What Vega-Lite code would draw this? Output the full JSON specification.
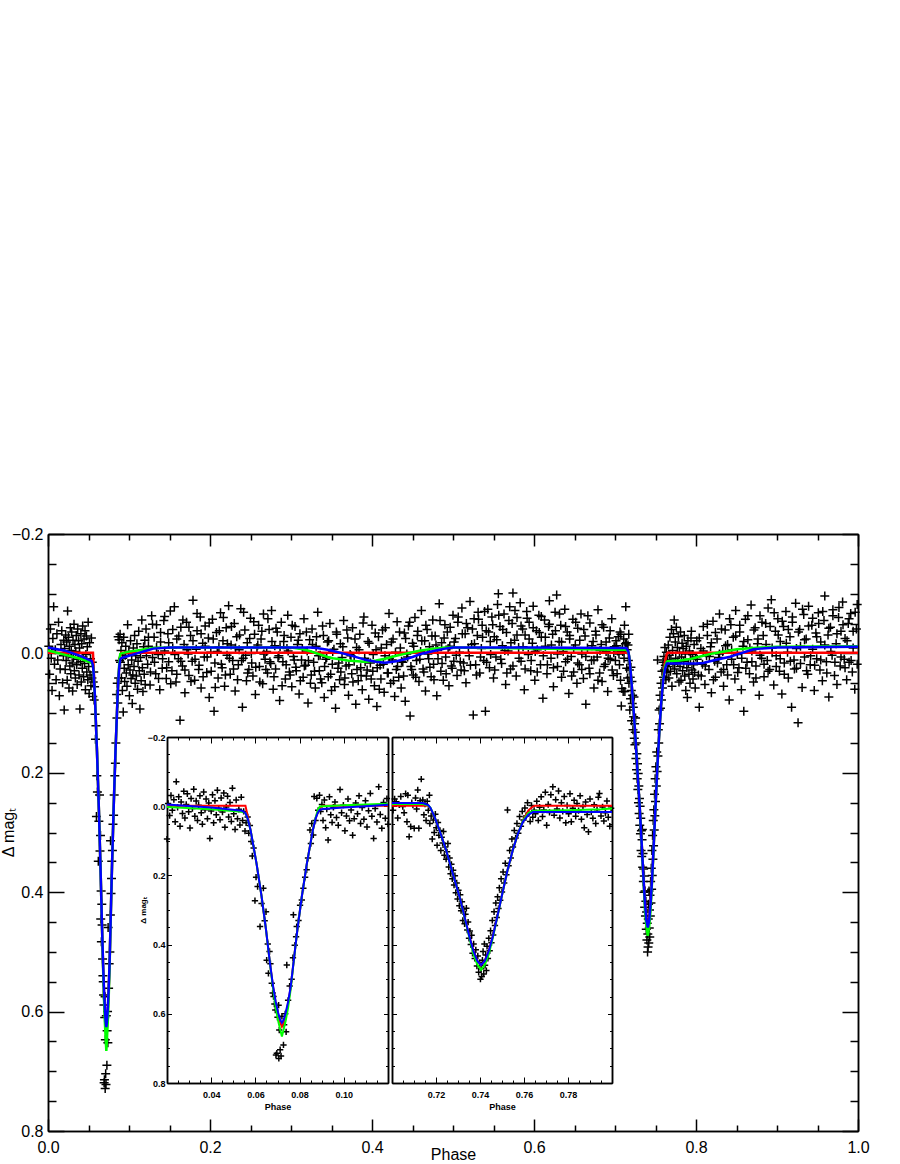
{
"$schema":"https://vega.github.io/schema/vega-lite/v6.json",
"width":810,"height":597,
"autosize":{"type":"none"},
"padding":{"left":48,"top":534,"right":42,"bottom":33},
"background":"white",
"config":{"view":{"stroke":null},"axis":{"grid":false,"domainColor":"black","tickColor":"black","labelColor":"black","titleColor":"black","labelFont":"Liberation Sans","titleFont":"Liberation Sans","domainWidth":1.5,"tickWidth":1.5,"labelFlush":false,"labelOverlap":false}},
"datasets":{
"obs":[
{"p":0.001,"m":-0.012},{"p":0.002,"m":0.035},{"p":0.003,"m":-0.041},{"p":0.004,"m":0.008},{"p":0.005,"m":0.062},{"p":0.006,"m":-0.025},{"p":0.007,"m":-0.078},{"p":0.008,"m":0.018},{"p":0.009,"m":-0.006},{"p":0.010,"m":0.044},{"p":0.011,"m":-0.033},{"p":0.012,"m":0.011},{"p":0.013,"m":-0.052},{"p":0.014,"m":0.071},{"p":0.015,"m":0.026},{"p":0.016,"m":-0.015},{"p":0.017,"m":-0.038},{"p":0.018,"m":0.049},{"p":0.019,"m":0.004},{"p":0.020,"m":0.095},{"p":0.0195,"m":-0.022},
{"p":0.0205,"m":-0.008},{"p":0.0212,"m":0.027},{"p":0.0218,"m":-0.031},{"p":0.0224,"m":0.012},{"p":0.0231,"m":-0.019},{"p":0.0237,"m":0.045},{"p":0.0242,"m":-0.071},{"p":0.0248,"m":0.003},{"p":0.0253,"m":-0.027},{"p":0.0259,"m":0.058},{"p":0.0264,"m":-0.012},{"p":0.0270,"m":0.021},{"p":0.0276,"m":-0.043},{"p":0.0281,"m":0.034},{"p":0.0287,"m":-0.005},{"p":0.0292,"m":-0.036},{"p":0.0298,"m":0.016},{"p":0.0304,"m":0.063},{"p":0.0309,"m":-0.022},{"p":0.0315,"m":0.007},{"p":0.0321,"m":-0.049},{"p":0.0326,"m":0.029},{"p":0.0332,"m":-0.015},{"p":0.0338,"m":0.041},{"p":0.0343,"m":-0.003},{"p":0.0349,"m":-0.030},{"p":0.0355,"m":0.019},{"p":0.0360,"m":0.052},{"p":0.0366,"m":-0.041},{"p":0.0372,"m":0.010},{"p":0.0377,"m":-0.021},{"p":0.0383,"m":0.036},{"p":0.0389,"m":-0.009},{"p":0.0394,"m":0.093},{"p":0.0400,"m":0.014},{"p":0.0406,"m":-0.033},{"p":0.0411,"m":0.048},{"p":0.0417,"m":-0.016},{"p":0.0423,"m":0.025},{"p":0.0428,"m":-0.046},{"p":0.0434,"m":0.006},{"p":0.0440,"m":0.039},{"p":0.0445,"m":-0.024},{"p":0.0451,"m":0.017},{"p":0.0457,"m":-0.038},{"p":0.0462,"m":0.061},{"p":0.0468,"m":0.002},{"p":0.0474,"m":-0.029},{"p":0.0479,"m":0.031},{"p":0.0485,"m":-0.011},{"p":0.0491,"m":0.044},{"p":0.0496,"m":-0.052},{"p":0.0502,"m":0.022},{"p":0.0508,"m":0.067},{"p":0.0513,"m":-0.018},{"p":0.0519,"m":0.036},{"p":0.0525,"m":0.009},{"p":0.0530,"m":0.054},{"p":0.0536,"m":-0.026},{"p":0.0542,"m":0.041},{"p":0.0547,"m":0.015},{"p":0.0553,"m":0.072},{"p":0.0558,"m":0.048},
{"p":0.0565,"m":0.031},{"p":0.0570,"m":0.078},{"p":0.0575,"m":0.056},{"p":0.0581,"m":0.102},{"p":0.0586,"m":0.144},{"p":0.0592,"m":0.121},{"p":0.0598,"m":0.273},{"p":0.0603,"m":0.205},{"p":0.0610,"m":0.232},{"p":0.0621,"m":0.348},{"p":0.0628,"m":0.281},{"p":0.0636,"m":0.237},{"p":0.0642,"m":0.331},{"p":0.0648,"m":0.305},{"p":0.0651,"m":0.445},{"p":0.0656,"m":0.398},{"p":0.0659,"m":0.483},{"p":0.0664,"m":0.420},{"p":0.0668,"m":0.455},{"p":0.0674,"m":0.512},{"p":0.0678,"m":0.540},{"p":0.0682,"m":0.550},{"p":0.0686,"m":0.572},{"p":0.0690,"m":0.589},{"p":0.0693,"m":0.719},{"p":0.0697,"m":0.714},{"p":0.0700,"m":0.610},{"p":0.0705,"m":0.575},{"p":0.0706,"m":0.729},{"p":0.0708,"m":0.647},{"p":0.0712,"m":0.704},{"p":0.0716,"m":0.722},{"p":0.0720,"m":0.607},{"p":0.0727,"m":0.690},{"p":0.0730,"m":0.632},{"p":0.0735,"m":0.600},{"p":0.0739,"m":0.652},{"p":0.0742,"m":0.459},{"p":0.0748,"m":0.561},{"p":0.0755,"m":0.520},{"p":0.0764,"m":0.500},{"p":0.0770,"m":0.438},{"p":0.0772,"m":0.314},{"p":0.0778,"m":0.402},{"p":0.0784,"m":0.377},{"p":0.0787,"m":0.348},{"p":0.0795,"m":0.330},{"p":0.0802,"m":0.286},{"p":0.0810,"m":0.271},{"p":0.0817,"m":0.237},{"p":0.0825,"m":0.205},{"p":0.0832,"m":0.184},{"p":0.0838,"m":0.150},{"p":0.0847,"m":0.069},{"p":0.0851,"m":0.108},{"p":0.0855,"m":0.050},{"p":0.0862,"m":0.083},{"p":0.0866,"m":-0.028},{"p":0.0872,"m":0.041},{"p":0.0878,"m":-0.023},{"p":0.0884,"m":0.012},
{"p":0.0890,"m":-0.032},{"p":0.0895,"m":0.015},{"p":0.0901,"m":-0.005},{"p":0.0906,"m":0.041},{"p":0.0912,"m":-0.018},{"p":0.0918,"m":0.062},{"p":0.0923,"m":0.008},{"p":0.0929,"m":0.098},{"p":0.0935,"m":-0.027},{"p":0.0941,"m":0.025},{"p":0.0947,"m":0.047},{"p":0.0953,"m":0.003},{"p":0.0960,"m":-0.012},{"p":0.0967,"m":0.033},{"p":0.0975,"m":0.055},{"p":0.0983,"m":-0.048},{"p":0.0990,"m":0.019},{"p":0.0998,"m":-0.003},{"p":0.1005,"m":0.071},{"p":0.1012,"m":0.028},{"p":0.1019,"m":-0.021},{"p":0.1026,"m":0.042},{"p":0.1033,"m":0.011},{"p":0.1040,"m":0.084},{"p":0.1047,"m":0.036},{"p":0.1054,"m":-0.009},{"p":0.1062,"m":0.022},{"p":0.1069,"m":-0.030},{"p":0.1076,"m":0.050},{"p":0.1083,"m":0.004},{"p":0.1091,"m":0.038},{"p":0.1098,"m":-0.016},{"p":0.1105,"m":0.060},{"p":0.1112,"m":0.013},{"p":0.1120,"m":-0.037},{"p":0.1127,"m":0.029},{"p":0.1135,"m":0.093},{"p":0.1142,"m":0.007},{"p":0.1150,"m":0.046},{"p":0.1158,"m":-0.056},{"p":0.1165,"m":0.024},{"p":0.1172,"m":0.064},{"p":0.1180,"m":-0.011},{"p":0.1188,"m":0.035},{"p":0.1195,"m":-0.022},{"p":0.1200,"m":0.052},
{"p":0.121,"m":-0.041},{"p":0.123,"m":0.018},{"p":0.124,"m":-0.012},{"p":0.126,"m":0.053},{"p":0.128,"m":-0.063},{"p":0.129,"m":0.007},{"p":0.131,"m":-0.027},{"p":0.133,"m":0.034},{"p":0.134,"m":-0.048},{"p":0.136,"m":0.002},{"p":0.138,"m":0.061},{"p":0.139,"m":-0.019},{"p":0.141,"m":0.025},{"p":0.143,"m":-0.055},{"p":0.144,"m":-0.004},{"p":0.146,"m":0.042},{"p":0.148,"m":-0.033},{"p":0.149,"m":0.014},{"p":0.151,"m":-0.071},{"p":0.153,"m":0.029},{"p":0.154,"m":-0.009},{"p":0.156,"m":-0.078},{"p":0.158,"m":0.048},{"p":0.159,"m":-0.024},{"p":0.161,"m":0.009},{"p":0.163,"m":0.112},{"p":0.164,"m":-0.044},{"p":0.166,"m":0.021},{"p":0.168,"m":-0.015},{"p":0.169,"m":0.066},{"p":0.171,"m":-0.052},{"p":0.173,"m":0.001},{"p":0.174,"m":0.037},{"p":0.176,"m":-0.030},{"p":0.178,"m":0.013},{"p":0.179,"m":-0.089},{"p":0.181,"m":0.045},{"p":0.183,"m":-0.007},{"p":0.184,"m":-0.038},{"p":0.186,"m":0.027},{"p":0.188,"m":-0.061},{"p":0.189,"m":0.058},{"p":0.191,"m":-0.017},{"p":0.193,"m":0.006},{"p":0.194,"m":-0.046},{"p":0.196,"m":0.032},{"p":0.198,"m":-0.026},{"p":0.199,"m":0.074},{"p":0.201,"m":-0.002},{"p":0.203,"m":-0.057},{"p":0.205,"m":0.097},{"p":0.206,"m":0.016},{"p":0.208,"m":-0.035},{"p":0.210,"m":0.041},{"p":0.211,"m":-0.011},{"p":0.213,"m":-0.068},{"p":0.215,"m":0.024},{"p":0.216,"m":-0.021},{"p":0.218,"m":0.055},{"p":0.220,"m":-0.043},{"p":0.221,"m":0.003},{"p":0.223,"m":-0.080},{"p":0.225,"m":0.035},{"p":0.226,"m":-0.014},{"p":0.228,"m":0.012},{"p":0.230,"m":-0.050},{"p":0.231,"m":0.063},{"p":0.233,"m":-0.028},{"p":0.235,"m":0.019},{"p":0.236,"m":-0.006},{"p":0.238,"m":-0.075},{"p":0.240,"m":0.090},{"p":0.241,"m":0.008},{"p":0.243,"m":-0.039},{"p":0.245,"m":0.046},{"p":0.246,"m":-0.018},{"p":0.248,"m":0.027},{"p":0.250,"m":-0.059},{"p":0.251,"m":0.000},{"p":0.253,"m":0.038},{"p":0.255,"m":-0.032},{"p":0.256,"m":0.069},{"p":0.258,"m":-0.010},{"p":0.260,"m":-0.047},{"p":0.261,"m":0.022},{"p":0.263,"m":-0.024},{"p":0.265,"m":0.051},{"p":0.266,"m":-0.066},{"p":0.268,"m":0.010},{"p":0.270,"m":-0.003},{"p":0.271,"m":0.033},{"p":0.273,"m":-0.040},{"p":0.275,"m":0.017},{"p":0.276,"m":-0.072},{"p":0.278,"m":0.060},{"p":0.280,"m":-0.013},{"p":0.281,"m":0.026},{"p":0.283,"m":-0.036},{"p":0.285,"m":0.004},{"p":0.286,"m":0.079},{"p":0.288,"m":-0.052},{"p":0.290,"m":0.014},{"p":0.291,"m":-0.020},{"p":0.293,"m":0.043},{"p":0.295,"m":-0.008},{"p":0.296,"m":-0.064},{"p":0.298,"m":0.031},{"p":0.300,"m":-0.027},{"p":0.301,"m":0.056},{"p":0.303,"m":0.005},{"p":0.305,"m":-0.045},{"p":0.306,"m":0.023},{"p":0.308,"m":-0.015},{"p":0.310,"m":0.068},{"p":0.311,"m":-0.033},{"p":0.313,"m":0.011},{"p":0.315,"m":0.040},{"p":0.316,"m":-0.058},{"p":0.318,"m":0.020},{"p":0.320,"m":-0.004},{"p":0.321,"m":0.083},{"p":0.323,"m":-0.023},{"p":0.325,"m":0.036},{"p":0.326,"m":-0.041},{"p":0.328,"m":0.015},{"p":0.330,"m":0.058},{"p":0.331,"m":-0.012},{"p":0.333,"m":-0.069},{"p":0.335,"m":0.029},{"p":0.336,"m":0.003},{"p":0.338,"m":0.049},{"p":0.340,"m":-0.030},{"p":0.341,"m":0.074},{"p":0.343,"m":0.010},{"p":0.345,"m":-0.019},{"p":0.346,"m":0.039},{"p":0.348,"m":-0.050},{"p":0.350,"m":0.062},{"p":0.351,"m":0.018},{"p":0.353,"m":-0.007},{"p":0.355,"m":0.092},{"p":0.356,"m":-0.036},{"p":0.358,"m":0.025},{"p":0.360,"m":0.044},{"p":0.361,"m":-0.016},{"p":0.363,"m":0.007},{"p":0.365,"m":-0.055},{"p":0.366,"m":0.052},{"p":0.368,"m":0.021},{"p":0.370,"m":-0.026},{"p":0.371,"m":0.070},{"p":0.373,"m":0.002},{"p":0.375,"m":0.034},{"p":0.376,"m":-0.043},{"p":0.378,"m":0.013},{"p":0.380,"m":0.085},{"p":0.381,"m":-0.010},{"p":0.383,"m":0.046},{"p":0.385,"m":-0.032},{"p":0.386,"m":0.024},{"p":0.388,"m":0.061},{"p":0.390,"m":-0.061},{"p":0.391,"m":0.008},{"p":0.393,"m":0.038},{"p":0.395,"m":-0.020},{"p":0.396,"m":0.077},{"p":0.398,"m":0.016},{"p":0.400,"m":-0.047},{"p":0.401,"m":0.030},{"p":0.403,"m":0.054},{"p":0.405,"m":-0.006},{"p":0.406,"m":0.089},{"p":0.408,"m":-0.028},{"p":0.410,"m":0.020},{"p":0.411,"m":0.043},{"p":0.413,"m":-0.039},{"p":0.415,"m":0.065},{"p":0.416,"m":0.004},{"p":0.418,"m":-0.015},{"p":0.420,"m":0.033},{"p":0.421,"m":-0.067},{"p":0.423,"m":0.050},{"p":0.425,"m":0.011},{"p":0.426,"m":-0.024},{"p":0.428,"m":0.072},{"p":0.430,"m":0.027},{"p":0.431,"m":-0.053},{"p":0.433,"m":0.040},{"p":0.435,"m":-0.009},{"p":0.436,"m":0.058},{"p":0.438,"m":0.015},{"p":0.440,"m":-0.034},{"p":0.441,"m":0.080},{"p":0.443,"m":0.001},{"p":0.445,"m":-0.046},{"p":0.447,"m":0.105},{"p":0.448,"m":0.022},{"p":0.450,"m":-0.017},{"p":0.451,"m":0.036},{"p":0.453,"m":-0.060},{"p":0.455,"m":0.012},{"p":0.456,"m":-0.030},{"p":0.458,"m":0.047},{"p":0.460,"m":-0.003},{"p":0.461,"m":-0.072},{"p":0.463,"m":0.026},{"p":0.465,"m":-0.021},{"p":0.466,"m":0.063},{"p":0.468,"m":-0.040},{"p":0.470,"m":0.009},{"p":0.471,"m":-0.011},{"p":0.473,"m":0.039},{"p":0.475,"m":-0.056},{"p":0.476,"m":0.018},{"p":0.478,"m":-0.029},{"p":0.480,"m":0.071},{"p":0.481,"m":-0.005},{"p":0.483,"m":-0.083},{"p":0.485,"m":0.030},{"p":0.486,"m":-0.018},{"p":0.488,"m":0.045},{"p":0.490,"m":-0.048},{"p":0.491,"m":0.006},{"p":0.493,"m":-0.036},{"p":0.495,"m":0.054},{"p":0.496,"m":-0.012},{"p":0.498,"m":0.021},{"p":0.500,"m":-0.064},{"p":0.501,"m":0.013},{"p":0.503,"m":-0.025},{"p":0.505,"m":0.037},{"p":0.506,"m":-0.052},{"p":0.508,"m":-0.002},{"p":0.510,"m":0.028},{"p":0.511,"m":-0.076},{"p":0.513,"m":0.016},{"p":0.515,"m":-0.033},{"p":0.516,"m":0.049},{"p":0.518,"m":-0.043},{"p":0.520,"m":0.004},{"p":0.521,"m":-0.087},{"p":0.523,"m":-0.015},{"p":0.525,"m":0.103},{"p":0.526,"m":-0.058},{"p":0.528,"m":0.019},{"p":0.530,"m":-0.030},{"p":0.531,"m":-0.069},{"p":0.533,"m":0.033},{"p":0.535,"m":-0.008},{"p":0.536,"m":-0.047},{"p":0.538,"m":0.012},{"p":0.540,"m":0.097},{"p":0.541,"m":-0.038},{"p":0.543,"m":-0.074},{"p":0.545,"m":0.024},{"p":0.546,"m":-0.020},{"p":0.548,"m":-0.061},{"p":0.550,"m":0.041},{"p":0.551,"m":-0.028},{"p":0.553,"m":0.006},{"p":0.555,"m":-0.082},{"p":0.556,"m":-0.100},{"p":0.558,"m":-0.045},{"p":0.560,"m":0.017},{"p":0.561,"m":-0.013},{"p":0.563,"m":-0.066},{"p":0.565,"m":0.052},{"p":0.566,"m":-0.035},{"p":0.568,"m":-0.004},{"p":0.570,"m":-0.078},{"p":0.571,"m":0.026},{"p":0.573,"m":-0.050},{"p":0.574,"m":-0.101},{"p":0.576,"m":-0.022},{"p":0.578,"m":0.038},{"p":0.579,"m":-0.060},{"p":0.581,"m":-0.010},{"p":0.583,"m":-0.085},{"p":0.584,"m":0.013},{"p":0.586,"m":-0.041},{"p":0.588,"m":0.061},{"p":0.589,"m":-0.031},{"p":0.591,"m":-0.070},{"p":0.593,"m":0.002},{"p":0.594,"m":-0.052},{"p":0.596,"m":0.029},{"p":0.598,"m":-0.017},{"p":0.599,"m":-0.079},{"p":0.601,"m":0.045},{"p":0.603,"m":-0.038},{"p":0.604,"m":-0.006},{"p":0.606,"m":-0.064},{"p":0.608,"m":0.019},{"p":0.609,"m":-0.027},{"p":0.611,"m":0.075},{"p":0.613,"m":-0.056},{"p":0.614,"m":-0.012},{"p":0.616,"m":0.034},{"p":0.618,"m":-0.045},{"p":0.619,"m":-0.088},{"p":0.621,"m":0.008},{"p":0.623,"m":-0.032},{"p":0.624,"m":0.056},{"p":0.626,"m":-0.069},{"p":0.628,"m":-0.098},{"p":0.629,"m":0.022},{"p":0.631,"m":-0.020},{"p":0.633,"m":-0.047},{"p":0.634,"m":0.040},{"p":0.636,"m":-0.003},{"p":0.638,"m":-0.074},{"p":0.639,"m":0.014},{"p":0.641,"m":-0.036},{"p":0.643,"m":0.067},{"p":0.644,"m":-0.024},{"p":0.646,"m":0.005},{"p":0.648,"m":-0.057},{"p":0.649,"m":0.031},{"p":0.651,"m":-0.014},{"p":0.653,"m":0.050},{"p":0.654,"m":-0.042},{"p":0.656,"m":0.019},{"p":0.658,"m":-0.066},{"p":0.659,"m":0.001},{"p":0.661,"m":0.042},{"p":0.663,"m":-0.029},{"p":0.664,"m":0.085},{"p":0.666,"m":-0.009},{"p":0.668,"m":0.025},{"p":0.669,"m":-0.051},{"p":0.671,"m":0.012},{"p":0.673,"m":-0.020},{"p":0.674,"m":0.058},{"p":0.676,"m":-0.037},{"p":0.678,"m":0.006},{"p":0.679,"m":-0.073},{"p":0.681,"m":0.033},{"p":0.683,"m":-0.015},{"p":0.684,"m":0.047},{"p":0.686,"m":-0.044},{"p":0.688,"m":0.018},{"p":0.689,"m":-0.003},{"p":0.691,"m":0.064},{"p":0.693,"m":-0.026},{"p":0.694,"m":0.010},{"p":0.696,"m":-0.058},{"p":0.698,"m":0.037},{"p":0.699,"m":-0.011},
{"p":0.1215,"m":0.004},{"p":0.124,"m":-0.027},{"p":0.1265,"m":0.031},{"p":0.129,"m":-0.049},{"p":0.1315,"m":0.015},{"p":0.134,"m":-0.010},{"p":0.1365,"m":0.042},{"p":0.139,"m":-0.035},{"p":0.1415,"m":0.009},{"p":0.144,"m":-0.062},{"p":0.1465,"m":0.024},{"p":0.149,"m":-0.018},{"p":0.1515,"m":0.051},{"p":0.154,"m":-0.040},{"p":0.1565,"m":0.002},{"p":0.159,"m":0.035},{"p":0.1615,"m":-0.029},{"p":0.164,"m":0.013},{"p":0.1665,"m":-0.056},{"p":0.169,"m":0.028},{"p":0.1715,"m":-0.006},{"p":0.174,"m":-0.044},{"p":0.1765,"m":0.047},{"p":0.179,"m":-0.021},{"p":0.1815,"m":0.010},{"p":0.184,"m":-0.067},{"p":0.1865,"m":0.020},{"p":0.189,"m":-0.033},{"p":0.1915,"m":0.039},{"p":0.194,"m":-0.012},{"p":0.1965,"m":0.006},{"p":0.199,"m":-0.051},{"p":0.2015,"m":0.030},{"p":0.204,"m":-0.024},{"p":0.2065,"m":0.057},{"p":0.209,"m":-0.003},{"p":0.2115,"m":-0.038},{"p":0.214,"m":0.018},{"p":0.2165,"m":-0.060},{"p":0.219,"m":0.036},{"p":0.2215,"m":-0.016},{"p":0.224,"m":0.008},{"p":0.2265,"m":-0.045},{"p":0.229,"m":0.026},{"p":0.2315,"m":-0.009},{"p":0.234,"m":0.044},{"p":0.2365,"m":-0.031},{"p":0.239,"m":0.012},{"p":0.2415,"m":-0.069},{"p":0.244,"m":0.003},{"p":0.2465,"m":0.033},{"p":0.249,"m":-0.025},{"p":0.2515,"m":0.016},{"p":0.254,"m":-0.053},{"p":0.2565,"m":0.023},{"p":0.259,"m":-0.014},{"p":0.2615,"m":0.048},{"p":0.264,"m":-0.037},{"p":0.2665,"m":0.001},{"p":0.269,"m":0.027},{"p":0.2715,"m":-0.058},{"p":0.274,"m":0.014},{"p":0.2765,"m":-0.020},{"p":0.279,"m":0.039},{"p":0.2815,"m":-0.042},{"p":0.284,"m":0.007},{"p":0.2865,"m":-0.011},{"p":0.289,"m":0.054},{"p":0.2915,"m":-0.030},{"p":0.294,"m":0.019},{"p":0.2965,"m":-0.004},{"p":0.299,"m":0.036},{"p":0.3015,"m":-0.047},{"p":0.304,"m":0.011},{"p":0.3065,"m":0.029},{"p":0.309,"m":-0.022},{"p":0.3115,"m":0.046},{"p":0.314,"m":-0.008},{"p":0.3165,"m":0.021},{"p":0.319,"m":-0.036},{"p":0.3215,"m":0.012},{"p":0.324,"m":0.050},{"p":0.3265,"m":-0.015},{"p":0.329,"m":0.030},{"p":0.3315,"m":-0.028},{"p":0.334,"m":0.004},{"p":0.3365,"m":0.043},{"p":0.339,"m":-0.046},{"p":0.3415,"m":0.022},{"p":0.344,"m":0.007},{"p":0.3465,"m":-0.021},{"p":0.349,"m":0.035},{"p":0.3515,"m":-0.003},{"p":0.354,"m":0.056},{"p":0.3565,"m":-0.032},{"p":0.359,"m":0.016},{"p":0.3615,"m":0.031},{"p":0.364,"m":-0.011},{"p":0.3665,"m":0.041},{"p":0.369,"m":-0.039},{"p":0.3715,"m":0.019},{"p":0.374,"m":0.004},{"p":0.3765,"m":0.048},{"p":0.379,"m":-0.024},{"p":0.3815,"m":0.027},{"p":0.384,"m":-0.006},{"p":0.3865,"m":0.037},{"p":0.389,"m":-0.051},{"p":0.3915,"m":0.014},{"p":0.394,"m":0.028},{"p":0.3965,"m":-0.017},{"p":0.399,"m":0.043},{"p":0.4015,"m":0.002},{"p":0.404,"m":-0.034},{"p":0.4065,"m":0.024},{"p":0.409,"m":0.060},{"p":0.4115,"m":-0.009},{"p":0.414,"m":0.018},{"p":0.4165,"m":-0.043},{"p":0.419,"m":0.033},{"p":0.4215,"m":0.008},{"p":0.424,"m":-0.019},{"p":0.4265,"m":0.046},{"p":0.429,"m":-0.002},{"p":0.4315,"m":0.022},{"p":0.434,"m":-0.036},{"p":0.4365,"m":0.013},{"p":0.439,"m":0.038},{"p":0.4415,"m":-0.025},{"p":0.444,"m":0.006},{"p":0.4465,"m":-0.052},{"p":0.449,"m":0.027},{"p":0.4515,"m":-0.012},{"p":0.454,"m":0.040},{"p":0.4565,"m":-0.037},{"p":0.459,"m":0.010},{"p":0.4615,"m":-0.021},{"p":0.464,"m":0.031},{"p":0.4665,"m":-0.047},{"p":0.469,"m":0.001},{"p":0.4715,"m":0.023},{"p":0.474,"m":-0.029},{"p":0.4765,"m":0.044},{"p":0.479,"m":-0.014},{"p":0.4815,"m":0.009},{"p":0.484,"m":-0.055},{"p":0.4865,"m":0.017},{"p":0.489,"m":-0.026},{"p":0.4915,"m":0.034},{"p":0.494,"m":-0.008},{"p":0.4965,"m":-0.044},{"p":0.499,"m":0.025},{"p":0.5015,"m":-0.019},{"p":0.504,"m":0.003},{"p":0.5065,"m":-0.061},{"p":0.509,"m":0.014},{"p":0.5115,"m":-0.033},{"p":0.514,"m":0.029},{"p":0.5165,"m":-0.050},{"p":0.519,"m":-0.009},{"p":0.5215,"m":0.020},{"p":0.524,"m":-0.041},{"p":0.5265,"m":-0.016},{"p":0.529,"m":0.036},{"p":0.5315,"m":-0.057},{"p":0.534,"m":0.006},{"p":0.5365,"m":-0.027},{"p":0.539,"m":-0.070},{"p":0.5415,"m":0.015},{"p":0.544,"m":-0.036},{"p":0.5465,"m":0.002},{"p":0.549,"m":-0.048},{"p":0.5515,"m":0.028},{"p":0.554,"m":-0.023},{"p":0.5565,"m":-0.064},{"p":0.559,"m":0.010},{"p":0.5615,"m":-0.040},{"p":0.564,"m":-0.005},{"p":0.5665,"m":0.033},{"p":0.569,"m":-0.055},{"p":0.5715,"m":-0.018},{"p":0.574,"m":0.021},{"p":0.5765,"m":-0.072},{"p":0.579,"m":-0.031},{"p":0.5815,"m":0.008},{"p":0.584,"m":-0.046},{"p":0.5865,"m":-0.011},{"p":0.589,"m":0.026},{"p":0.5915,"m":-0.059},{"p":0.594,"m":-0.024},{"p":0.5965,"m":0.012},{"p":0.599,"m":-0.043},{"p":0.6015,"m":-0.003},{"p":0.604,"m":0.031},{"p":0.6065,"m":-0.035},{"p":0.609,"m":-0.062},{"p":0.6115,"m":0.004},{"p":0.614,"m":-0.027},{"p":0.6165,"m":0.019},{"p":0.619,"m":-0.049},{"p":0.6215,"m":-0.014},{"p":0.624,"m":0.024},{"p":0.6265,"m":-0.038},{"p":0.629,"m":0.001},{"p":0.6315,"m":-0.066},{"p":0.634,"m":-0.019},{"p":0.6365,"m":0.030},{"p":0.639,"m":-0.045},{"p":0.6415,"m":0.010},{"p":0.644,"m":-0.030},{"p":0.6465,"m":0.038},{"p":0.649,"m":-0.008},{"p":0.6515,"m":-0.052},{"p":0.654,"m":0.016},{"p":0.6565,"m":-0.022},{"p":0.659,"m":0.027},{"p":0.6615,"m":-0.040},{"p":0.664,"m":0.005},{"p":0.6665,"m":-0.063},{"p":0.669,"m":0.034},{"p":0.6715,"m":-0.013},{"p":0.674,"m":0.011},{"p":0.6765,"m":-0.031},{"p":0.679,"m":0.045},{"p":0.6815,"m":-0.005},{"p":0.684,"m":-0.048},{"p":0.6865,"m":0.022},{"p":0.689,"m":-0.019},{"p":0.6915,"m":0.008},{"p":0.694,"m":-0.038},{"p":0.6965,"m":0.028},{"p":0.6985,"m":-0.001},
{"p":0.7005,"m":0.012},{"p":0.7012,"m":-0.021},{"p":0.7019,"m":-0.013},{"p":0.7026,"m":0.034},{"p":0.7033,"m":-0.004},{"p":0.7040,"m":-0.028},{"p":0.7049,"m":0.001},{"p":0.7055,"m":0.019},{"p":0.7062,"m":-0.036},{"p":0.7068,"m":0.045},{"p":0.7072,"m":-0.032},{"p":0.7078,"m":0.088},{"p":0.7085,"m":0.059},{"p":0.7090,"m":-0.010},{"p":0.7095,"m":-0.003},{"p":0.7101,"m":0.064},{"p":0.7107,"m":-0.024},{"p":0.7112,"m":0.008},{"p":0.7117,"m":-0.047},{"p":0.7122,"m":0.064},{"p":0.7128,"m":-0.016},{"p":0.7133,"m":-0.078},{"p":0.7140,"m":-0.018},{"p":0.7145,"m":0.025},{"p":0.7150,"m":-0.006},{"p":0.7155,"m":0.041},{"p":0.7160,"m":-0.014},{"p":0.7165,"m":0.012},{"p":0.7170,"m":-0.032},
{"p":0.7172,"m":0.050},{"p":0.7178,"m":0.028},{"p":0.7183,"m":0.095},{"p":0.7188,"m":0.040},{"p":0.7192,"m":0.076},{"p":0.7197,"m":0.023},{"p":0.7201,"m":0.062},{"p":0.7205,"m":0.113},{"p":0.7209,"m":0.047},{"p":0.7213,"m":0.084},{"p":0.7218,"m":0.070},{"p":0.7222,"m":0.128},{"p":0.7226,"m":0.090},{"p":0.7230,"m":0.106},{"p":0.7234,"m":0.073},{"p":0.7238,"m":0.142},{"p":0.7242,"m":0.118},{"p":0.7246,"m":0.153},{"p":0.7250,"m":0.132},{"p":0.7254,"m":0.108},{"p":0.7258,"m":0.176},{"p":0.7262,"m":0.150},{"p":0.7266,"m":0.195},{"p":0.7270,"m":0.168},{"p":0.7274,"m":0.210},{"p":0.7278,"m":0.185},{"p":0.7282,"m":0.228},{"p":0.7286,"m":0.201},{"p":0.7290,"m":0.250},{"p":0.7294,"m":0.222},{"p":0.7298,"m":0.268},{"p":0.7302,"m":0.243},{"p":0.7306,"m":0.288},{"p":0.7310,"m":0.256},{"p":0.7314,"m":0.302},{"p":0.7318,"m":0.276},{"p":0.7322,"m":0.330},{"p":0.7326,"m":0.297},{"p":0.7330,"m":0.340},{"p":0.7334,"m":0.312},{"p":0.7338,"m":0.295},{"p":0.7342,"m":0.358},{"p":0.7346,"m":0.335},{"p":0.7350,"m":0.382},{"p":0.7354,"m":0.361},{"p":0.7358,"m":0.400},{"p":0.7362,"m":0.373},{"p":0.7366,"m":0.425},{"p":0.7371,"m":0.398},{"p":0.7376,"m":0.440},{"p":0.7381,"m":0.415},{"p":0.7386,"m":0.462},{"p":0.7390,"m":0.433},{"p":0.7394,"m":0.480},{"p":0.7398,"m":0.452},{"p":0.7402,"m":0.500},{"p":0.7405,"m":0.470},{"p":0.7408,"m":0.492},{"p":0.7411,"m":0.445},{"p":0.7414,"m":0.420},{"p":0.7417,"m":0.485},{"p":0.7420,"m":0.398},{"p":0.7423,"m":0.460},{"p":0.7426,"m":0.430},{"p":0.7429,"m":0.475},{"p":0.7432,"m":0.405},{"p":0.7436,"m":0.440},{"p":0.7440,"m":0.382},{"p":0.7444,"m":0.418},{"p":0.7448,"m":0.360},{"p":0.7452,"m":0.395},{"p":0.7456,"m":0.330},{"p":0.7460,"m":0.372},{"p":0.7464,"m":0.305},{"p":0.7468,"m":0.345},{"p":0.7472,"m":0.280},{"p":0.7476,"m":0.322},{"p":0.7480,"m":0.262},{"p":0.7484,"m":0.296},{"p":0.7488,"m":0.236},{"p":0.7492,"m":0.272},{"p":0.7496,"m":0.210},{"p":0.7500,"m":0.248},{"p":0.7505,"m":0.190},{"p":0.7510,"m":0.222},{"p":0.7515,"m":0.165},{"p":0.7520,"m":0.198},{"p":0.7525,"m":0.011},{"p":0.7530,"m":0.172},{"p":0.7535,"m":0.128},{"p":0.7540,"m":0.150},{"p":0.7545,"m":0.095},{"p":0.7550,"m":0.118},{"p":0.7556,"m":0.070},{"p":0.7562,"m":0.092},{"p":0.7568,"m":0.050},{"p":0.7574,"m":0.078},{"p":0.7580,"m":0.030},{"p":0.7586,"m":0.058},{"p":0.7592,"m":0.015},{"p":0.7598,"m":0.040},{"p":0.7604,"m":0.005},{"p":0.7610,"m":0.028},{"p":0.7616,"m":-0.010},{"p":0.7622,"m":0.020},{"p":0.7628,"m":0.044},{"p":0.7634,"m":-0.002},{"p":0.7640,"m":0.032},{"p":0.7646,"m":0.012},
{"p":0.7652,"m":0.022},{"p":0.7658,"m":-0.014},{"p":0.7665,"m":0.041},{"p":0.7671,"m":0.003},{"p":0.7678,"m":-0.027},{"p":0.7684,"m":0.030},{"p":0.7690,"m":0.011},{"p":0.7697,"m":-0.040},{"p":0.7703,"m":0.055},{"p":0.7710,"m":-0.005},{"p":0.7716,"m":0.018},{"p":0.7722,"m":-0.033},{"p":0.7731,"m":-0.056},{"p":0.7737,"m":0.026},{"p":0.7744,"m":-0.019},{"p":0.7750,"m":0.008},{"p":0.7757,"m":-0.044},{"p":0.7763,"m":0.034},{"p":0.7770,"m":-0.010},{"p":0.7776,"m":0.015},{"p":0.7783,"m":-0.028},{"p":0.7790,"m":0.048},{"p":0.7796,"m":-0.002},{"p":0.7803,"m":0.022},{"p":0.7809,"m":-0.036},{"p":0.7815,"m":0.045},{"p":0.7822,"m":0.006},{"p":0.7828,"m":-0.017},{"p":0.7835,"m":0.029},{"p":0.7841,"m":-0.008},{"p":0.7848,"m":0.013},{"p":0.7855,"m":-0.030},{"p":0.7861,"m":0.038},{"p":0.7868,"m":0.001},{"p":0.7874,"m":0.062},{"p":0.7880,"m":-0.012},{"p":0.7887,"m":0.024},{"p":0.7893,"m":0.074},{"p":0.7900,"m":-0.021},{"p":0.7906,"m":0.017},{"p":0.7913,"m":0.035},{"p":0.7919,"m":-0.004},{"p":0.7926,"m":0.050},{"p":0.7932,"m":0.010},{"p":0.7938,"m":-0.026},{"p":0.7943,"m":-0.037},{"p":0.7950,"m":0.028},{"p":0.7957,"m":0.002},{"p":0.7963,"m":0.043},{"p":0.7970,"m":0.019},{"p":0.7977,"m":-0.015},{"p":0.7983,"m":0.032},{"p":0.7990,"m":0.058},{"p":0.7996,"m":0.006},
{"p":0.801,"m":-0.021},{"p":0.803,"m":0.036},{"p":0.804,"m":0.090},{"p":0.806,"m":-0.008},{"p":0.808,"m":0.018},{"p":0.809,"m":-0.045},{"p":0.811,"m":0.052},{"p":0.813,"m":0.004},{"p":0.814,"m":-0.030},{"p":0.816,"m":0.027},{"p":0.818,"m":-0.011},{"p":0.819,"m":0.066},{"p":0.821,"m":-0.054},{"p":0.823,"m":0.013},{"p":0.824,"m":0.040},{"p":0.826,"m":-0.024},{"p":0.828,"m":0.007},{"p":0.829,"m":-0.066},{"p":0.831,"m":0.031},{"p":0.833,"m":-0.003},{"p":0.834,"m":0.055},{"p":0.836,"m":-0.039},{"p":0.838,"m":0.019},{"p":0.839,"m":-0.015},{"p":0.841,"m":0.078},{"p":0.843,"m":-0.048},{"p":0.844,"m":0.010},{"p":0.846,"m":-0.027},{"p":0.848,"m":0.043},{"p":0.849,"m":-0.072},{"p":0.851,"m":0.002},{"p":0.853,"m":0.024},{"p":0.854,"m":-0.036},{"p":0.856,"m":0.061},{"p":0.858,"m":-0.012},{"p":0.859,"m":0.097},{"p":0.861,"m":-0.057},{"p":0.863,"m":0.015},{"p":0.864,"m":-0.023},{"p":0.866,"m":0.034},{"p":0.868,"m":-0.081},{"p":0.869,"m":-0.004},{"p":0.871,"m":0.048},{"p":0.873,"m":-0.043},{"p":0.874,"m":0.021},{"p":0.876,"m":-0.016},{"p":0.878,"m":0.070},{"p":0.879,"m":-0.063},{"p":0.881,"m":0.008},{"p":0.883,"m":-0.030},{"p":0.884,"m":0.039},{"p":0.886,"m":-0.050},{"p":0.888,"m":0.012},{"p":0.889,"m":-0.076},{"p":0.891,"m":0.027},{"p":0.893,"m":-0.090},{"p":0.894,"m":-0.009},{"p":0.896,"m":0.053},{"p":0.898,"m":-0.037},{"p":0.899,"m":0.004},{"p":0.901,"m":-0.058},{"p":0.903,"m":0.030},{"p":0.904,"m":-0.020},{"p":0.906,"m":0.068},{"p":0.908,"m":-0.045},{"p":0.909,"m":0.016},{"p":0.911,"m":-0.070},{"p":0.913,"m":-0.002},{"p":0.914,"m":0.041},{"p":0.916,"m":-0.028},{"p":0.918,"m":0.090},{"p":0.919,"m":-0.052},{"p":0.921,"m":0.011},{"p":0.923,"m":-0.084},{"p":0.924,"m":0.025},{"p":0.926,"m":0.116},{"p":0.928,"m":-0.040},{"p":0.929,"m":-0.012},{"p":0.931,"m":0.057},{"p":0.933,"m":-0.065},{"p":0.934,"m":0.006},{"p":0.936,"m":-0.024},{"p":0.938,"m":0.035},{"p":0.939,"m":-0.079},{"p":0.941,"m":0.019},{"p":0.943,"m":-0.047},{"p":0.944,"m":-0.007},{"p":0.946,"m":0.062},{"p":0.948,"m":-0.034},{"p":0.949,"m":0.009},{"p":0.951,"m":-0.068},{"p":0.953,"m":0.028},{"p":0.954,"m":-0.019},{"p":0.956,"m":0.046},{"p":0.958,"m":-0.055},{"p":0.959,"m":-0.096},{"p":0.961,"m":0.014},{"p":0.963,"m":-0.031},{"p":0.964,"m":0.073},{"p":0.966,"m":-0.044},{"p":0.968,"m":0.003},{"p":0.969,"m":-0.073},{"p":0.971,"m":0.037},{"p":0.973,"m":-0.016},{"p":0.974,"m":0.052},{"p":0.976,"m":-0.060},{"p":0.978,"m":0.021},{"p":0.979,"m":-0.037},{"p":0.981,"m":-0.086},{"p":0.983,"m":0.010},{"p":0.984,"m":-0.025},{"p":0.986,"m":0.044},{"p":0.988,"m":-0.050},{"p":0.989,"m":0.015},{"p":0.991,"m":-0.067},{"p":0.993,"m":0.031},{"p":0.994,"m":-0.009},{"p":0.996,"m":0.060},{"p":0.998,"m":-0.041},{"p":0.999,"m":-0.082},
{"p":0.8015,"m":0.010},{"p":0.804,"m":-0.026},{"p":0.8065,"m":0.038},{"p":0.809,"m":-0.004},{"p":0.8115,"m":0.021},{"p":0.814,"m":-0.049},{"p":0.8165,"m":0.005},{"p":0.819,"m":-0.018},{"p":0.8215,"m":0.044},{"p":0.824,"m":-0.035},{"p":0.8265,"m":0.016},{"p":0.829,"m":0.001},{"p":0.8315,"m":-0.041},{"p":0.834,"m":0.027},{"p":0.8365,"m":-0.013},{"p":0.839,"m":0.036},{"p":0.8415,"m":-0.058},{"p":0.844,"m":-0.006},{"p":0.8465,"m":0.019},{"p":0.849,"m":-0.029},{"p":0.8515,"m":0.032},{"p":0.854,"m":-0.047},{"p":0.8565,"m":0.008},{"p":0.859,"m":-0.020},{"p":0.8615,"m":0.025},{"p":0.864,"m":-0.063},{"p":0.8665,"m":-0.009},{"p":0.869,"m":0.014},{"p":0.8715,"m":-0.039},{"p":0.874,"m":0.041},{"p":0.8765,"m":-0.024},{"p":0.879,"m":0.003},{"p":0.8815,"m":-0.052},{"p":0.884,"m":0.018},{"p":0.8865,"m":-0.015},{"p":0.889,"m":0.030},{"p":0.8915,"m":-0.045},{"p":0.894,"m":-0.001},{"p":0.8965,"m":-0.068},{"p":0.899,"m":0.022},{"p":0.9015,"m":-0.031},{"p":0.904,"m":0.009},{"p":0.9065,"m":-0.054},{"p":0.909,"m":0.035},{"p":0.9115,"m":-0.017},{"p":0.914,"m":-0.040},{"p":0.9165,"m":0.013},{"p":0.919,"m":-0.061},{"p":0.9215,"m":0.026},{"p":0.924,"m":-0.008},{"p":0.9265,"m":-0.036},{"p":0.929,"m":0.017},{"p":0.9315,"m":-0.074},{"p":0.934,"m":-0.023},{"p":0.9365,"m":0.029},{"p":0.939,"m":-0.046},{"p":0.9415,"m":0.004},{"p":0.944,"m":-0.059},{"p":0.9465,"m":0.020},{"p":0.949,"m":-0.028},{"p":0.9515,"m":-0.050},{"p":0.954,"m":0.011},{"p":0.9565,"m":-0.070},{"p":0.959,"m":-0.014},{"p":0.9615,"m":0.033},{"p":0.964,"m":-0.042},{"p":0.9665,"m":-0.003},{"p":0.969,"m":-0.063},{"p":0.9715,"m":0.015},{"p":0.974,"m":-0.033},{"p":0.9765,"m":-0.077},{"p":0.979,"m":0.006},{"p":0.9815,"m":-0.048},{"p":0.984,"m":0.024},{"p":0.9865,"m":-0.021},{"p":0.989,"m":-0.058},{"p":0.9915,"m":0.012},{"p":0.994,"m":-0.037},{"p":0.9965,"m":-0.069},{"p":0.999,"m":0.018}
],
"model":[
{"p":0.000,"r":-0.001,"g":-0.005,"b":-0.010},{"p":0.020,"r":-0.001,"g":0.002,"b":-0.005},{"p":0.040,"r":-0.001,"g":0.009,"b":0.004},{"p":0.054,"r":-0.001,"g":0.016,"b":0.013},{"p":0.0555,"r":-0.001,"g":0.020,"b":0.020},{"p":0.0565,"r":0.028,"g":0.036,"b":0.036},{"p":0.0578,"r":0.069,"g":0.069,"b":0.069},{"p":0.0605,"r":0.165,"g":0.165,"b":0.165},{"p":0.0628,"r":0.261,"g":0.261,"b":0.261},{"p":0.0648,"r":0.357,"g":0.357,"b":0.357},{"p":0.0666,"r":0.454,"g":0.456,"b":0.454},{"p":0.0680,"r":0.522,"g":0.527,"b":0.520},{"p":0.0692,"r":0.570,"g":0.582,"b":0.565},{"p":0.0703,"r":0.603,"g":0.620,"b":0.597},{"p":0.0712,"r":0.625,"g":0.645,"b":0.617},{"p":0.0720,"r":0.637,"g":0.666,"b":0.626},{"p":0.0728,"r":0.625,"g":0.645,"b":0.617},{"p":0.0737,"r":0.603,"g":0.620,"b":0.597},{"p":0.0748,"r":0.570,"g":0.582,"b":0.565},{"p":0.0760,"r":0.522,"g":0.527,"b":0.520},{"p":0.0772,"r":0.454,"g":0.456,"b":0.454},{"p":0.0790,"r":0.357,"g":0.357,"b":0.357},{"p":0.0810,"r":0.261,"g":0.261,"b":0.261},{"p":0.0833,"r":0.165,"g":0.165,"b":0.165},{"p":0.0860,"r":0.069,"g":0.069,"b":0.069},{"p":0.0873,"r":0.035,"g":0.032,"b":0.035},{"p":0.0883,"r":0.014,"g":0.010,"b":0.018},{"p":0.0892,"r":0.005,"g":0.001,"b":0.010},{"p":0.0905,"r":-0.001,"g":0.000,"b":0.008},{"p":0.100,"r":-0.001,"g":-0.003,"b":0.004},{"p":0.110,"r":-0.001,"g":-0.005,"b":0.000},{"p":0.120,"r":-0.001,"g":-0.007,"b":-0.004},{"p":0.130,"r":-0.001,"g":-0.009,"b":-0.008},{"p":0.150,"r":-0.001,"g":-0.010,"b":-0.010},{"p":0.300,"r":-0.001,"g":-0.010,"b":-0.010},{"p":0.315,"r":-0.001,"g":-0.007,"b":-0.010},{"p":0.323,"r":-0.001,"g":-0.004,"b":-0.010},{"p":0.332,"r":-0.001,"g":0.000,"b":-0.009},{"p":0.345,"r":-0.001,"g":0.006,"b":-0.006},{"p":0.352,"r":-0.001,"g":0.008,"b":-0.004},{"p":0.370,"r":-0.001,"g":0.012,"b":0.002},{"p":0.390,"r":-0.001,"g":0.014,"b":0.010},{"p":0.393,"r":-0.001,"g":0.014,"b":0.011},{"p":0.405,"r":-0.001,"g":0.012,"b":0.014},{"p":0.416,"r":-0.001,"g":0.009,"b":0.0156},{"p":0.430,"r":-0.001,"g":0.004,"b":0.013},{"p":0.443,"r":-0.001,"g":0.000,"b":0.009},{"p":0.450,"r":-0.001,"g":-0.002,"b":0.006},{"p":0.460,"r":-0.001,"g":-0.005,"b":0.001},{"p":0.476,"r":-0.001,"g":-0.008,"b":-0.004},{"p":0.490,"r":-0.001,"g":-0.010,"b":-0.008},{"p":0.500,"r":-0.001,"g":-0.010,"b":-0.010},{"p":0.600,"r":-0.001,"g":-0.008,"b":-0.010},{"p":0.700,"r":-0.001,"g":-0.006,"b":-0.009},{"p":0.714,"r":-0.001,"g":-0.006,"b":-0.009},{"p":0.7165,"r":-0.001,"g":-0.002,"b":-0.003},{"p":0.7175,"r":0.006,"g":0.005,"b":0.005},{"p":0.7193,"r":0.030,"g":0.030,"b":0.030},{"p":0.7215,"r":0.068,"g":0.068,"b":0.068},{"p":0.7246,"r":0.127,"g":0.127,"b":0.127},{"p":0.7275,"r":0.192,"g":0.192,"b":0.192},{"p":0.7307,"r":0.262,"g":0.262,"b":0.262},{"p":0.7330,"r":0.320,"g":0.322,"b":0.320},{"p":0.7352,"r":0.377,"g":0.381,"b":0.377},{"p":0.7370,"r":0.418,"g":0.428,"b":0.418},{"p":0.7388,"r":0.447,"g":0.458,"b":0.447},{"p":0.7405,"r":0.459,"g":0.473,"b":0.459},{"p":0.7422,"r":0.447,"g":0.458,"b":0.447},{"p":0.7440,"r":0.418,"g":0.428,"b":0.418},{"p":0.7458,"r":0.377,"g":0.381,"b":0.377},{"p":0.7480,"r":0.315,"g":0.317,"b":0.315},{"p":0.7504,"r":0.245,"g":0.245,"b":0.245},{"p":0.7525,"r":0.185,"g":0.185,"b":0.185},{"p":0.7549,"r":0.127,"g":0.127,"b":0.127},{"p":0.7572,"r":0.080,"g":0.080,"b":0.080},{"p":0.7595,"r":0.042,"g":0.042,"b":0.045},{"p":0.7620,"r":0.012,"g":0.020,"b":0.025},{"p":0.7640,"r":0.001,"g":0.014,"b":0.017},{"p":0.7650,"r":-0.001,"g":0.013,"b":0.017},{"p":0.780,"r":-0.001,"g":0.012,"b":0.017},{"p":0.795,"r":-0.001,"g":0.009,"b":0.017},{"p":0.800,"r":-0.001,"g":0.007,"b":0.017},{"p":0.809,"r":-0.001,"g":0.004,"b":0.016},{"p":0.821,"r":-0.001,"g":0.000,"b":0.012},{"p":0.842,"r":-0.001,"g":-0.005,"b":0.0055},{"p":0.850,"r":-0.001,"g":-0.007,"b":0.002},{"p":0.871,"r":-0.001,"g":-0.009,"b":-0.007},{"p":0.880,"r":-0.001,"g":-0.010,"b":-0.008},{"p":0.900,"r":-0.001,"g":-0.011,"b":-0.010},{"p":1.000,"r":-0.001,"g":-0.012,"b":-0.011}
]
},
"layer":[
{"data":{"name":"obs"},
 "mark":{"type":"point","shape":"M-1,0L1,0M0,-1L0,1","size":81,"filled":false,"stroke":"black","strokeWidth":1.5,"opacity":1},
 "encoding":{
  "x":{"field":"p","type":"quantitative","scale":{"domain":[0,1],"nice":false,"zero":false},
   "axis":{"orient":"bottom","values":[0,0.2,0.4,0.6,0.8,1],"format":".1f","tickSize":-12,"labelFontSize":16,"labelPadding":20,"title":"Phase","titleFontSize":16,"titleFontWeight":"normal","titleBaseline":"alphabetic","titleY":28}},
  "y":{"field":"m","type":"quantitative","scale":{"domain":[-0.2,0.8],"reverse":true,"nice":false,"zero":false},
   "axis":{"orient":"left","values":[-0.2,0,0.2,0.4,0.6,0.8],"format":".1f","tickSize":-16,"labelFontSize":16,"labelPadding":21,"title":"Δ magₜ","titleFontSize":16,"titleFontWeight":"normal","titleAngle":-90,"titleX":-40,"titleY":298,"titleAlign":"center","titleBaseline":"middle"}}}},
{"data":{"name":"model"},
 "mark":{"type":"line","color":"#ff0000","strokeWidth":2.5},
 "encoding":{
  "x":{"field":"p","type":"quantitative","scale":{"domain":[0,1],"nice":false,"zero":false},
   "axis":{"orient":"bottom","values":[0.05,0.1,0.15,0.25,0.3,0.35,0.45,0.5,0.55,0.65,0.7,0.75,0.85,0.9,0.95],"tickSize":-6,"labels":false,"title":null}},
  "y":{"field":"r","type":"quantitative","scale":{"domain":[-0.2,0.8],"reverse":true,"nice":false,"zero":false},
   "axis":{"orient":"left","values":[-0.15,-0.1,-0.05,0.05,0.1,0.15,0.25,0.3,0.35,0.45,0.5,0.55,0.65,0.7,0.75],"tickSize":-8,"labels":false,"title":null}}}},
{"data":{"name":"model"},
 "mark":{"type":"line","color":"#00ff00","strokeWidth":2.5},
 "encoding":{
  "x":{"field":"p","type":"quantitative","scale":{"domain":[0,1],"nice":false,"zero":false},
   "axis":{"orient":"top","values":[0,0.2,0.4,0.6,0.8,1],"tickSize":-12,"labels":false,"title":null}},
  "y":{"field":"g","type":"quantitative","scale":{"domain":[-0.2,0.8],"reverse":true,"nice":false,"zero":false},
   "axis":{"orient":"right","values":[-0.2,0,0.2,0.4,0.6,0.8],"tickSize":-16,"labels":false,"title":null}}}},
{"data":{"name":"model"},
 "mark":{"type":"line","color":"#0000ff","strokeWidth":2.5},
 "encoding":{
  "x":{"field":"p","type":"quantitative","scale":{"domain":[0,1],"nice":false,"zero":false},
   "axis":{"orient":"top","values":[0.05,0.1,0.15,0.25,0.3,0.35,0.45,0.5,0.55,0.65,0.7,0.75,0.85,0.9,0.95],"tickSize":-6,"labels":false,"title":null}},
  "y":{"field":"b","type":"quantitative","scale":{"domain":[-0.2,0.8],"reverse":true,"nice":false,"zero":false},
   "axis":{"orient":"right","values":[-0.15,-0.1,-0.05,0.05,0.1,0.15,0.25,0.3,0.35,0.45,0.5,0.55,0.65,0.7,0.75],"tickSize":-8,"labels":false,"title":null}}}},

{"data":{"name":"obs"},"transform":[{"filter":{"field":"p","range":[0.02,0.12]}}],
 "mark":{"type":"point","shape":"M-1,0L1,0M0,-1L0,1","size":40,"filled":false,"stroke":"black","strokeWidth":1.5,"opacity":1},
 "encoding":{
  "x":{"field":"p","type":"quantitative","scale":{"domain":[0.02,0.12],"range":[119,340],"nice":false,"zero":false},
   "axis":{"orient":"bottom","offset":-48,"values":[0.04,0.06,0.08,0.1],"format":".2f","tickSize":-6,"tickWidth":1,"domainWidth":1.5,"labelFontSize":9,"labelFontWeight":"bold","labelPadding":13,"title":"Phase","titleFontSize":9,"titleFontWeight":"bold","titleBaseline":"middle","titleY":23}},
  "y":{"field":"m","type":"quantitative","scale":{"domain":[-0.2,0.8],"range":[203,549],"nice":false,"zero":false},
   "axis":{"orient":"left","offset":-119,"values":[-0.2,0,0.2,0.4,0.6,0.8],"format":".1f","tickSize":-4.5,"tickWidth":1,"labelFontSize":9,"labelFontWeight":"bold","labelPadding":6.5,"title":"Δ magₜ","titleFontSize":8,"titleFontWeight":"bold","titleAngle":-90,"titleX":-24,"titleY":376,"titleAlign":"center","titleBaseline":"middle"}}}},
{"data":{"name":"model"},"transform":[{"filter":{"field":"p","range":[0.02,0.12]}}],
 "mark":{"type":"line","color":"#ff0000","strokeWidth":2},
 "encoding":{
  "x":{"field":"p","type":"quantitative","scale":{"domain":[0.02,0.12],"range":[119,340],"nice":false,"zero":false},
   "axis":{"orient":"bottom","offset":-48,"values":[0.025,0.03,0.035,0.045,0.05,0.055,0.065,0.07,0.075,0.085,0.09,0.095,0.105,0.11,0.115],"tickSize":-3,"tickWidth":1,"labels":false,"title":null}},
  "y":{"field":"r","type":"quantitative","scale":{"domain":[-0.2,0.8],"range":[203,549],"nice":false,"zero":false},
   "axis":{"orient":"left","offset":-119,"values":[-0.15,-0.1,-0.05,0.05,0.1,0.15,0.25,0.3,0.35,0.45,0.5,0.55,0.65,0.7,0.75],"tickSize":-2.5,"tickWidth":1,"labels":false,"title":null}}}},
{"data":{"name":"model"},"transform":[{"filter":{"field":"p","range":[0.02,0.12]}}],
 "mark":{"type":"line","color":"#00ff00","strokeWidth":2},
 "encoding":{
  "x":{"field":"p","type":"quantitative","scale":{"domain":[0.02,0.12],"range":[119,340],"nice":false,"zero":false},
   "axis":{"orient":"top","offset":-203,"values":[0.04,0.06,0.08,0.1],"tickSize":-6,"tickWidth":1,"labels":false,"title":null}},
  "y":{"field":"g","type":"quantitative","scale":{"domain":[-0.2,0.8],"range":[203,549],"nice":false,"zero":false},
   "axis":{"orient":"right","offset":-470,"values":[-0.2,0,0.2,0.4,0.6,0.8],"tickSize":-4.5,"tickWidth":1,"labels":false,"title":null}}}},
{"data":{"name":"model"},"transform":[{"filter":{"field":"p","range":[0.02,0.12]}}],
 "mark":{"type":"line","color":"#0000ff","strokeWidth":2},
 "encoding":{
  "x":{"field":"p","type":"quantitative","scale":{"domain":[0.02,0.12],"range":[119,340],"nice":false,"zero":false},
   "axis":{"orient":"top","offset":-203,"values":[0.025,0.03,0.035,0.045,0.05,0.055,0.065,0.07,0.075,0.085,0.09,0.095,0.105,0.11,0.115],"tickSize":-3,"tickWidth":1,"labels":false,"title":null}},
  "y":{"field":"b","type":"quantitative","scale":{"domain":[-0.2,0.8],"range":[203,549],"nice":false,"zero":false},
   "axis":{"orient":"right","offset":-470,"values":[-0.15,-0.1,-0.05,0.05,0.1,0.15,0.25,0.3,0.35,0.45,0.5,0.55,0.65,0.7,0.75],"tickSize":-2.5,"tickWidth":1,"labels":false,"title":null}}}},

{"data":{"name":"obs"},"transform":[{"filter":{"field":"p","range":[0.7,0.8]}}],
 "mark":{"type":"point","shape":"M-1,0L1,0M0,-1L0,1","size":40,"filled":false,"stroke":"black","strokeWidth":1.5,"opacity":1},
 "encoding":{
  "x":{"field":"p","type":"quantitative","scale":{"domain":[0.7,0.8],"range":[344,564],"nice":false,"zero":false},
   "axis":{"orient":"bottom","offset":-48,"values":[0.72,0.74,0.76,0.78],"format":".2f","tickSize":-6,"tickWidth":1,"labelFontSize":9,"labelFontWeight":"bold","labelPadding":13,"title":"Phase","titleFontSize":9,"titleFontWeight":"bold","titleBaseline":"middle","titleY":23}},
  "y":{"field":"m","type":"quantitative","scale":{"domain":[-0.2,0.8],"range":[203,549],"nice":false,"zero":false},
   "axis":{"orient":"left","offset":-344,"values":[-0.2,0,0.2,0.4,0.6,0.8],"tickSize":-4.5,"tickWidth":1,"labels":false,"title":null}}}},
{"data":{"name":"model"},"transform":[{"filter":{"field":"p","range":[0.7,0.8]}}],
 "mark":{"type":"line","color":"#ff0000","strokeWidth":2},
 "encoding":{
  "x":{"field":"p","type":"quantitative","scale":{"domain":[0.7,0.8],"range":[344,564],"nice":false,"zero":false},
   "axis":{"orient":"bottom","offset":-48,"values":[0.705,0.71,0.715,0.725,0.73,0.735,0.745,0.75,0.755,0.765,0.77,0.775,0.785,0.79,0.795],"tickSize":-3,"tickWidth":1,"labels":false,"title":null}},
  "y":{"field":"r","type":"quantitative","scale":{"domain":[-0.2,0.8],"range":[203,549],"nice":false,"zero":false},
   "axis":{"orient":"left","offset":-344,"values":[-0.15,-0.1,-0.05,0.05,0.1,0.15,0.25,0.3,0.35,0.45,0.5,0.55,0.65,0.7,0.75],"tickSize":-2.5,"tickWidth":1,"labels":false,"title":null}}}},
{"data":{"name":"model"},"transform":[{"filter":{"field":"p","range":[0.7,0.8]}}],
 "mark":{"type":"line","color":"#00ff00","strokeWidth":2},
 "encoding":{
  "x":{"field":"p","type":"quantitative","scale":{"domain":[0.7,0.8],"range":[344,564],"nice":false,"zero":false},
   "axis":{"orient":"top","offset":-203,"values":[0.72,0.74,0.76,0.78],"tickSize":-6,"tickWidth":1,"labels":false,"title":null}},
  "y":{"field":"g","type":"quantitative","scale":{"domain":[-0.2,0.8],"range":[203,549],"nice":false,"zero":false},
   "axis":{"orient":"right","offset":-246,"values":[-0.2,0,0.2,0.4,0.6,0.8],"tickSize":-4.5,"tickWidth":1,"labels":false,"title":null}}}},
{"data":{"name":"model"},"transform":[{"filter":{"field":"p","range":[0.7,0.8]}}],
 "mark":{"type":"line","color":"#0000ff","strokeWidth":2},
 "encoding":{
  "x":{"field":"p","type":"quantitative","scale":{"domain":[0.7,0.8],"range":[344,564],"nice":false,"zero":false},
   "axis":{"orient":"top","offset":-203,"values":[0.705,0.71,0.715,0.725,0.73,0.735,0.745,0.75,0.755,0.765,0.77,0.775,0.785,0.79,0.795],"tickSize":-3,"tickWidth":1,"labels":false,"title":null}},
  "y":{"field":"b","type":"quantitative","scale":{"domain":[-0.2,0.8],"range":[203,549],"nice":false,"zero":false},
   "axis":{"orient":"right","offset":-246,"values":[-0.15,-0.1,-0.05,0.05,0.1,0.15,0.25,0.3,0.35,0.45,0.5,0.55,0.65,0.7,0.75],"tickSize":-2.5,"tickWidth":1,"labels":false,"title":null}}}}
],
"resolve":{"scale":{"x":"independent","y":"independent"},"axis":{"x":"independent","y":"independent"}}
}
